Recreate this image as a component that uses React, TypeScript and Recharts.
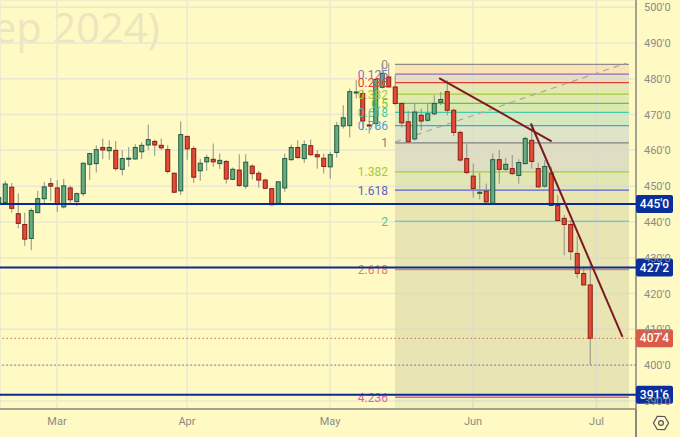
import { Bar, CartesianGrid, ComposedChart, ReferenceArea, ReferenceDot, ReferenceLine, XAxis, YAxis } from "recharts";

const opens = [
  445.4, 445.4, 449.7, 442.3, 439.3, 435.4, 442.6, 446.5, 450.7, 449.5,
  444.2, 449.5, 445.7, 447.9, 456.1, 456.3, 460.8, 459.9, 460.0, 454.7,
  457.6, 457.6, 459.6, 461.5, 462.5, 461.4, 460.2, 453.6, 448.7, 463.9,
  460.5, 454.3, 456.8, 457.5, 456.3, 456.9, 451.9, 454.5, 450.0, 455.6,
  453.6, 451.7, 449.3, 445.2, 449.5, 457.4, 460.8, 457.7, 461.3, 458.8,
  457.8, 455.4, 459.4, 466.8, 466.9, 476.1, 475.9, 467.1, 467.5, 477.6,
  480.5, 477.7, 473.1, 468.0, 463.2, 469.8, 468.4, 470.2, 473.4, 476.4,
  471.2, 465.0, 457.7, 452.8, 448.0, 448.6, 445.2, 457.4, 454.7, 454.9,
  453.0, 456.3, 462.8, 454.9, 450.0, 453.6, 444.6, 441.0, 439.3, 431.2,
  425.6, 422.4,
];
const closes = [
  446.8, 450.6, 443.8, 439.6, 435.2, 443.2, 446.5, 449.8, 450.0, 445.1,
  450.1, 446.2, 447.9, 456.4, 459.1, 460.2, 460.1, 460.8, 454.9, 457.7,
  457.8, 460.8, 461.4, 463.0, 461.5, 460.7, 454.1, 448.3, 464.4, 460.4,
  452.5, 456.4, 458.0, 456.8, 457.2, 452.0, 454.7, 450.2, 456.7, 453.5,
  451.7, 449.4, 444.8, 451.2, 457.7, 460.8, 458.0, 461.6, 458.8, 458.2,
  455.5, 458.8, 466.9, 469.1, 476.4, 476.3, 468.2, 466.8, 479.8, 481.5,
  477.7, 473.1, 467.7, 462.4, 470.7, 468.2, 470.2, 473.1, 474.2, 471.2,
  465.0, 457.3, 453.8, 449.3, 448.3, 445.6, 457.4, 454.7, 456.1, 453.5,
  456.6, 463.3, 456.9, 449.8, 455.5, 444.6, 440.4, 439.3, 431.7, 425.6,
  422.4, 407.5,
];
const highs = [
  447.5, 451.5, 450.9, 448.0, 442.6, 443.8, 448.7, 451.2, 452.3, 451.7,
  452.0, 450.2, 448.2, 456.6, 459.3, 461.4, 463.3, 462.8, 462.6, 460.1,
  460.9, 461.7, 462.3, 467.2, 463.0, 463.3, 461.4, 453.8, 468.1, 464.1,
  461.2, 457.6, 458.8, 461.9, 459.1, 457.3, 455.2, 458.9, 458.9, 456.1,
  454.3, 452.1, 449.5, 451.4, 459.1, 461.6, 462.8, 462.8, 463.0, 460.1,
  459.1, 459.6, 467.9, 472.6, 477.3, 479.6, 477.0, 469.8, 479.8, 484.3,
  484.3, 481.0, 473.3, 471.0, 473.1, 471.7, 473.1, 475.4, 476.3, 479.6,
  471.7, 465.5, 461.7, 456.3, 453.7, 450.7, 459.1, 460.1, 457.9, 458.7,
  457.5, 463.8, 467.5, 456.6, 457.3, 455.4, 447.5, 441.9, 440.5, 436.0,
  427.5, 428.9,
];
const lows = [
  445.0, 445.2, 442.6, 438.2, 433.3, 432.1, 442.6, 445.0, 445.9, 442.8,
  443.8, 445.3, 444.5, 447.2, 451.7, 453.8, 457.6, 457.4, 454.3, 453.0,
  455.4, 457.4, 457.6, 460.1, 458.5, 460.1, 453.5, 448.2, 447.5, 457.4,
  450.9, 451.5, 454.3, 455.4, 454.8, 450.7, 451.7, 449.8, 449.3, 451.9,
  449.6, 449.3, 444.6, 445.0, 448.4, 457.1, 457.7, 456.5, 458.4, 454.9,
  453.5, 452.1, 458.0, 466.1, 463.6, 474.5, 465.6, 464.7, 466.1, 477.3,
  477.7, 472.6, 466.4, 462.1, 462.7, 465.6, 468.0, 469.8, 472.6, 469.8,
  464.0, 456.8, 453.3, 446.8, 446.3, 445.3, 445.0, 450.7, 454.3, 453.1,
  450.7, 456.1, 454.9, 449.5, 449.6, 444.4, 440.2, 430.7, 429.3, 424.3,
  422.3, 400.0,
];

const priceTicks = [390, 400, 410, 420, 430, 440, 450, 460, 470, 480, 490, 500];
const monthTicks = [9, 29, 51, 73, 92];
const monthNames = ["Mar", "Apr", "May", "Jun", "Jul"];

const fibNames = ["0", "0.125", "0.236", "0.382", "0.5", "0.618", "0.786", "1", "1.382", "1.618", "2", "2.618", "4.236"];
const fibPrices = [484.0, 481.3, 478.9, 475.7, 473.1, 470.6, 466.9, 462.1, 454.0, 448.9, 440.2, 426.7, 391.0];
const fibColors = ["#8c8c8c", "#8a6cc8", "#e03c3c", "#a4cc38", "#58cc40", "#44cca0", "#44a4dc", "#808080", "#a4cc38", "#5a60d0", "#30d4a0", "#e08068", "#dc60b4"];
const fibBands = ["#fbe3b4", "#eadfb8", "#e6e8b4", "#dfe9b0", "#d8eab0", "#d6e8c0", "#dfe3c8", "#dfdec2", "#e2e5b4", "#e8e5b2", "#e8e5b2", "#e8e5b2"];
const fibFoot = 387.8;

const keyLevels = [445, 427.25, 391.75];
const keyLabels = ["445'0", "427'2", "391'6"];
const lastPrice = 407.5;
const lastLabel = "407'4";
const sessionLow = 400;

const fibStart = 61;
const fibEnd = 97;
const trendA = [{ x: 67.8, y: 480.2 }, { x: 85.1, y: 462.5 }];
const trendB = [{ x: 81.9, y: 467.5 }, { x: 96, y: 407.9 }];
const fanLine = [{ x: 61, y: 462.3 }, { x: 96.6, y: 484.4 }];

const candles = opens.map((open, i) => ({
  i,
  open,
  close: closes[i],
  range: [lows[i], highs[i]],
}));

const BG = "#fff9c4";
const GRID = "#ebe8d2";
const BAND_GRID = "#dcdccc";
const AXIS = "#8a8a80";
const FONT = "Roboto, Arial, sans-serif";
const X_MAX = 98.08;

// layers: fib drawing stays under the candles, trend lines and levels over them
const Z_CANDLES = 450;
const Z_OVERLAY = 500;
const Z_TAGS = 700;

function Candle(props: any) {
  const { x, y, width, height, payload } = props;
  const [low, high] = payload.range;
  const k = height / (high - low);
  const up = payload.close >= payload.open;
  const top = Math.max(payload.open, payload.close);
  const bottom = Math.min(payload.open, payload.close);
  const cx = x + width / 2;
  return (
    <g>
      <line x1={cx} x2={cx} y1={y} y2={y + height} stroke="#8f8f8a" strokeWidth={1} />
      <rect
        x={x + 0.5}
        y={y + (high - top) * k}
        width={width - 1}
        height={Math.max((top - bottom) * k, 1)}
        fill={up ? "#6aa984" : "#e04c38"}
        stroke={up ? "#1d5c3e" : "#8c1a12"}
        strokeWidth={1}
      />
    </g>
  );
}

function PriceTag(props: any) {
  const { cx, cy, label, color } = props;
  return (
    <g>
      <rect x={cx} y={cy - 9} width={37} height={18} rx={2} fill={color} />
      <text x={cx + 18.5} y={cy + 4} textAnchor="middle" fontSize={12} fontFamily={FONT} fill="#ffffff" fontWeight={500}>
        {label}
      </text>
    </g>
  );
}

function FibLabel(props: any) {
  const { cx, cy, label, color } = props;
  return (
    <text x={cx - 7} y={cy + 4.5} textAnchor="end" fontSize={12} fontFamily={FONT} fill={color}>
      {label}
    </text>
  );
}

function PriceTick(props: any) {
  const { x, y, payload } = props;
  return (
    <text x={x} y={y + 4} fontSize={11} fontFamily={FONT} fill="#8c8c84">
      {payload.value}'0
    </text>
  );
}

export default function App() {
  return (
    <div style={{ position: "absolute", left: 0, top: 0, width: 680, height: 437, background: BG, overflow: "hidden" }}>
      <div
        style={{
          position: "absolute",
          left: -7,
          top: 0,
          fontFamily: "'Open Sans', sans-serif",
          fontSize: 41.5,
          lineHeight: "54px",
          color: "#ece6bf",
        }}
      >
        ep 2024)
      </div>
      <div style={{ position: "absolute", left: 0, top: 0 }}>
        <ComposedChart width={680} height={437} data={candles} margin={{ top: 0, right: 0, bottom: 0, left: 0 }}>
          <CartesianGrid stroke={GRID} strokeWidth={1.5} />
          <XAxis
            dataKey="i"
            type="number"
            domain={[0.23, X_MAX]}
            allowDataOverflow
            ticks={monthTicks}
            tickFormatter={(v) => monthNames[monthTicks.indexOf(v)]}
            height={28}
            tick={{ fontSize: 11, fontFamily: FONT, fill: "#8c8c84" }}
            tickLine={false}
            axisLine={{ stroke: AXIS, strokeWidth: 1.5 }}
          />
          <YAxis
            orientation="right"
            type="number"
            domain={[387.75, 502]}
            allowDataOverflow
            ticks={priceTicks}
            width={44}
            interval={0}
            tick={<PriceTick />}
            tickLine={false}
            axisLine={{ stroke: AXIS, strokeWidth: 1.5 }}
          />
          {fibBands.map((color, n) => (
            <ReferenceArea
              key={`band-${n}`}
              x1={fibStart}
              x2={fibEnd}
              y1={fibPrices[n + 1]}
              y2={fibPrices[n]}
              fill={color}
              fillOpacity={1}
              stroke="none"
            />
          ))}
          <ReferenceArea x1={fibStart} x2={fibEnd} y1={fibFoot} y2={fibPrices[12]} fill="#f0f0bc" fillOpacity={1} stroke="none" />
          {priceTicks.slice(0, 10).map((price) => (
            <ReferenceLine
              key={`band-grid-${price}`}
              segment={[{ x: fibStart, y: price }, { x: fibEnd, y: price }]}
              stroke={BAND_GRID}
              strokeWidth={1.5}
            />
          ))}
          {monthTicks.slice(3).map((tick) => (
            <ReferenceLine
              key={`band-grid-x-${tick}`}
              segment={[{ x: tick, y: fibFoot }, { x: tick, y: fibPrices[0] }]}
              stroke={BAND_GRID}
              strokeWidth={1.5}
            />
          ))}
          {fibPrices.map((price, n) => (
            <ReferenceLine
              key={`fib-${n}`}
              segment={[{ x: fibStart, y: price }, { x: fibEnd, y: price }]}
              stroke={fibColors[n]}
              strokeWidth={n === 12 ? 1.5 : 1.2}
            />
          ))}
          <ReferenceLine segment={fanLine} stroke="#a8a89c" strokeWidth={1.2} strokeDasharray="6 5" />
          <Bar dataKey="range" barSize={5} shape={<Candle />} isAnimationActive={false} zIndex={Z_CANDLES} />
          {fibPrices.map((price, n) => (
            <ReferenceDot
              key={`fib-label-${n}`}
              x={fibStart}
              y={price}
              zIndex={Z_OVERLAY}
              shape={<FibLabel label={fibNames[n]} color={fibColors[n]} />}
            />
          ))}
          <ReferenceLine y={lastPrice} stroke="#e4604c" strokeWidth={1} strokeDasharray="1.5 2.5" zIndex={Z_OVERLAY} />
          <ReferenceLine y={sessionLow} stroke="#77776c" strokeWidth={1} strokeDasharray="1.5 2.5" zIndex={Z_OVERLAY} />
          {keyLevels.map((level) => (
            <ReferenceLine key={level} y={level} stroke="#0a2a96" strokeWidth={2} zIndex={Z_OVERLAY} />
          ))}
          <ReferenceLine segment={trendA} stroke="#7c1a20" strokeWidth={2} zIndex={Z_OVERLAY} />
          <ReferenceLine segment={trendB} stroke="#7c1a20" strokeWidth={2} zIndex={Z_OVERLAY} />
          {keyLevels.map((level, n) => (
            <ReferenceDot
              key={`tag-${level}`}
              x={X_MAX}
              y={level}
              ifOverflow="visible"
              zIndex={Z_TAGS}
              shape={<PriceTag label={keyLabels[n]} color="#0a2f9c" />}
            />
          ))}
          <ReferenceDot
            x={X_MAX}
            y={lastPrice}
            ifOverflow="visible"
            zIndex={Z_TAGS}
            shape={<PriceTag label={lastLabel} color="#dc5a48" />}
          />
        </ComposedChart>
      </div>
      <div style={{ position: "absolute", left: 635, top: 409, width: 1.5, height: 28, background: AXIS }} />
      <svg style={{ position: "absolute", left: 650, top: 412 }} width={22} height={22}>
        <polygon points="11,3.5 17.5,7.2 17.5,14.8 11,18.5 4.5,14.8 4.5,7.2" transform="rotate(30 11 11)" fill="none" stroke="#555" strokeWidth={1.2} />
        <circle cx={11} cy={11} r={2.4} fill="none" stroke="#555" strokeWidth={1.2} />
      </svg>
    </div>
  );
}
